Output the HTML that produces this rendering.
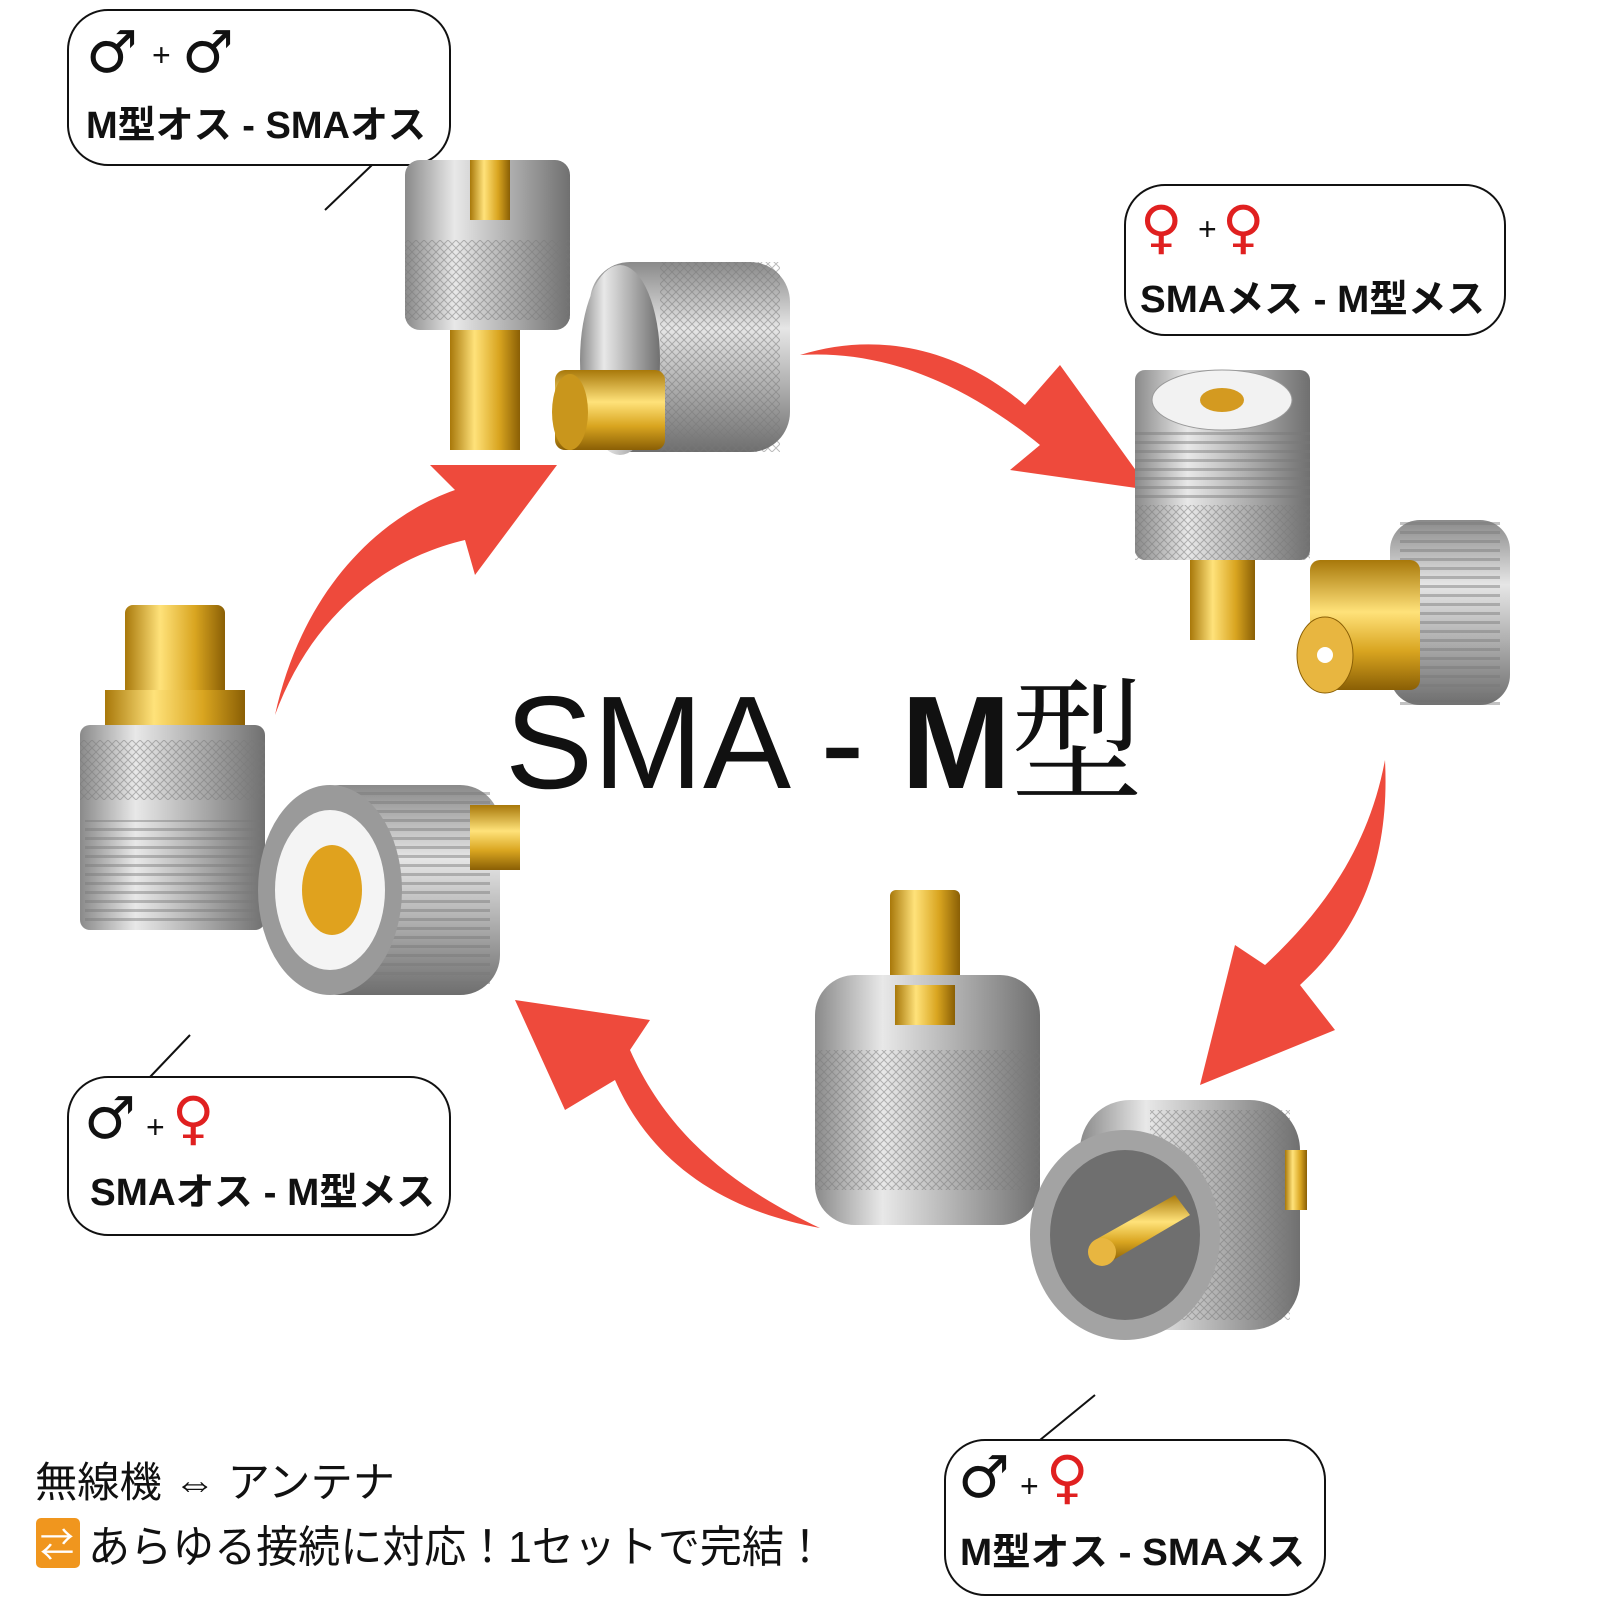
<!DOCTYPE html>
<html><head><meta charset="utf-8">
<style>
html,body{margin:0;padding:0;background:#fff;width:1600px;height:1600px;overflow:hidden}
svg{display:block}
text{font-family:"Liberation Sans","Noto Sans CJK JP",sans-serif}
.sym{font-family:"DejaVu Sans",sans-serif;font-weight:bold}
</style></head><body>
<svg width="1600" height="1600" viewBox="0 0 1600 1600" xmlns="http://www.w3.org/2000/svg">
<defs>
<linearGradient id="m" x1="0" x2="1"><stop offset="0" stop-color="#8a8a8a"/><stop offset=".3" stop-color="#e8e8e8"/><stop offset=".6" stop-color="#b5b5b5"/><stop offset="1" stop-color="#707070"/></linearGradient>
<linearGradient id="mv" x1="0" x2="0" y1="0" y2="1"><stop offset="0" stop-color="#8a8a8a"/><stop offset=".35" stop-color="#e6e6e6"/><stop offset=".65" stop-color="#b0b0b0"/><stop offset="1" stop-color="#6e6e6e"/></linearGradient>
<linearGradient id="g" x1="0" x2="1"><stop offset="0" stop-color="#a8780a"/><stop offset=".35" stop-color="#ffe27a"/><stop offset=".7" stop-color="#d9a520"/><stop offset="1" stop-color="#8a5f05"/></linearGradient>
<linearGradient id="gv" x1="0" x2="0" y1="0" y2="1"><stop offset="0" stop-color="#a8780a"/><stop offset=".4" stop-color="#ffe27a"/><stop offset=".7" stop-color="#d9a520"/><stop offset="1" stop-color="#8a5f05"/></linearGradient>
<pattern id="k" width="8" height="8" patternUnits="userSpaceOnUse"><path d="M0 0L8 8M8 0L0 8" stroke="#777" stroke-width="1" opacity=".5"/></pattern>
<pattern id="t" width="10" height="9" patternUnits="userSpaceOnUse"><rect width="10" height="3" fill="#777" opacity=".45"/></pattern>
</defs>

<g fill="#fff" stroke="#111" stroke-width="2">
<rect x="68" y="10" width="382" height="155" rx="40"/>
<rect x="1125" y="185" width="380" height="150" rx="40"/>
<rect x="68" y="1077" width="382" height="158" rx="40"/>
<rect x="945" y="1440" width="380" height="155" rx="40"/>
</g>
<g stroke="#111" stroke-width="2">
<line x1="372" y1="165" x2="325" y2="210"/>
<line x1="190" y1="1035" x2="150" y2="1077"/>
<line x1="1095" y1="1395" x2="1040" y2="1440"/>
</g>
<g font-size="58">
<text class="sym" x="86" y="72" fill="#111">♂</text><text x="152" y="66" font-size="32" fill="#111">+</text><text class="sym" x="182" y="72" fill="#111">♂</text>
<text class="sym" x="1140" y="247" fill="#e02020">♀</text><text x="1198" y="240" font-size="32" fill="#111">+</text><text class="sym" x="1222" y="247" fill="#e02020">♀</text>
<text class="sym" x="84" y="1138" fill="#111">♂</text><text x="146" y="1138" font-size="32" fill="#111">+</text><text class="sym" x="172" y="1138" fill="#e02020">♀</text>
<text class="sym" x="958" y="1497" fill="#111">♂</text><text x="1020" y="1497" font-size="32" fill="#111">+</text><text class="sym" x="1046" y="1497" fill="#e02020">♀</text>
</g>
<g font-size="38" fill="#111" font-weight="bold">
<text x="86" y="138" textLength="340" lengthAdjust="spacingAndGlyphs">M型オス - SMAオス</text>
<text x="1140" y="312" textLength="345" lengthAdjust="spacingAndGlyphs">SMAメス - M型メス</text>
<text x="90" y="1205" textLength="345" lengthAdjust="spacingAndGlyphs">SMAオス - M型メス</text>
<text x="960" y="1565" textLength="345" lengthAdjust="spacingAndGlyphs">M型オス - SMAメス</text>
</g>

<g fill="#ee4a3c">
<path d="M275 715 C300 600 370 520 455 490 L430 465 L557 465 L475 575 L465 540 C380 560 310 620 275 715 Z"/>
<path d="M800 355 C880 330 960 350 1025 405 L1060 365 L1150 490 L1010 470 L1040 445 C960 380 880 350 800 355 Z"/>
<path d="M1385 760 C1390 860 1360 930 1300 985 L1335 1030 L1200 1085 L1235 945 L1265 965 C1330 905 1370 840 1385 760 Z"/>
<path d="M820 1228 C720 1210 650 1160 615 1080 L565 1110 L515 1000 L650 1020 L630 1050 C670 1140 740 1190 820 1228 Z"/>
</g>

<rect x="405" y="160" width="165" height="170" rx="15" fill="url(#m)"/>
<rect x="405" y="240" width="165" height="80" fill="url(#k)"/>
<rect x="470" y="160" width="40" height="60" fill="url(#g)"/>
<rect x="450" y="330" width="70" height="120" fill="url(#g)"/>
<rect x="590" y="262" width="200" height="190" rx="40" fill="url(#mv)"/>
<rect x="660" y="262" width="120" height="190" fill="url(#k)"/>
<ellipse cx="620" cy="360" rx="40" ry="95" fill="url(#m)"/>
<rect x="555" y="370" width="110" height="80" rx="10" fill="url(#gv)"/>
<ellipse cx="570" cy="412" rx="18" ry="38" fill="#c9961c"/>
<rect x="1135" y="370" width="175" height="190" rx="10" fill="url(#m)"/>
<rect x="1135" y="430" width="175" height="70" fill="url(#t)"/>
<rect x="1135" y="505" width="175" height="55" fill="url(#k)"/>
<ellipse cx="1222" cy="400" rx="70" ry="30" fill="#f2f2f2" stroke="#999"/>
<ellipse cx="1222" cy="400" rx="22" ry="12" fill="#d49a20"/>
<rect x="1190" y="560" width="65" height="80" fill="url(#g)"/>
<rect x="1390" y="520" width="120" height="185" rx="30" fill="url(#mv)"/>
<rect x="1400" y="520" width="100" height="185" fill="url(#t)"/>
<rect x="1310" y="560" width="110" height="130" rx="10" fill="url(#gv)"/>
<ellipse cx="1325" cy="655" rx="28" ry="38" fill="#e8b640" stroke="#8a5f05"/>
<circle cx="1325" cy="655" r="8" fill="#fff"/>
<rect x="125" y="605" width="100" height="115" rx="8" fill="url(#g)"/>
<rect x="105" y="690" width="140" height="45" fill="url(#g)"/>
<rect x="80" y="725" width="185" height="205" rx="10" fill="url(#m)"/>
<rect x="80" y="740" width="185" height="60" fill="url(#k)"/>
<rect x="85" y="820" width="175" height="105" fill="url(#t)"/>
<rect x="300" y="785" width="200" height="210" rx="40" fill="url(#mv)"/>
<rect x="350" y="790" width="140" height="200" fill="url(#t)"/>
<rect x="470" y="805" width="50" height="65" fill="url(#gv)"/>
<ellipse cx="330" cy="890" rx="72" ry="105" fill="#9a9a9a"/>
<ellipse cx="330" cy="890" rx="55" ry="80" fill="#f4f4f4"/>
<ellipse cx="332" cy="890" rx="30" ry="45" fill="#e0a21e"/>
<rect x="890" y="890" width="70" height="120" rx="6" fill="url(#g)"/>
<rect x="815" y="975" width="225" height="250" rx="40" fill="url(#m)"/>
<rect x="815" y="1050" width="225" height="140" fill="url(#k)"/>
<rect x="895" y="985" width="60" height="40" fill="url(#g)"/>
<rect x="1080" y="1100" width="220" height="230" rx="50" fill="url(#m)"/>
<rect x="1150" y="1110" width="140" height="210" fill="url(#k)"/>
<rect x="1285" y="1150" width="22" height="60" fill="url(#g)"/>
<ellipse cx="1125" cy="1235" rx="95" ry="105" fill="#a3a3a3"/>
<ellipse cx="1125" cy="1235" rx="75" ry="85" fill="#6f6f6f"/>
<path d="M1095 1240 L1175 1195 L1190 1215 L1110 1262 Z" fill="url(#gv)"/>
<circle cx="1102" cy="1252" r="14" fill="#e8b640"/>

<text x="505" y="788" font-size="132" fill="#111" font-family="Liberation Sans,sans-serif">SMA - <tspan font-weight="bold">M</tspan><tspan font-family="Noto Serif CJK SC,serif">型</tspan></text>

<text x="35" y="1497" font-size="42" fill="#111" textLength="360" lengthAdjust="spacingAndGlyphs">無線機 ⇔ アンテナ</text>
<rect x="36" y="1518" width="44" height="50" rx="5" fill="#f0961e"/>
<text x="40" y="1557" font-size="34" fill="#fff">⇄</text>
<text x="88" y="1562" font-size="44" fill="#111" textLength="738" lengthAdjust="spacingAndGlyphs">あらゆる接続に対応！1セットで完結！</text>
</svg>
</body></html>
